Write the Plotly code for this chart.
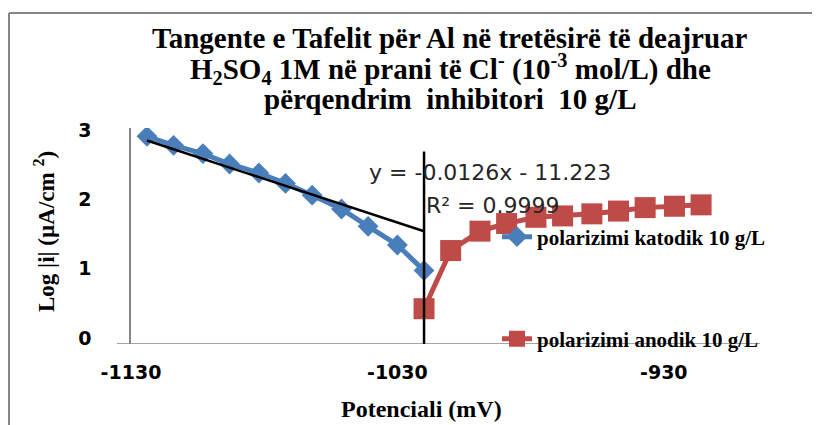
import plotly.graph_objects as go

# ---------------- data ----------------
cat_x = [-1124, -1114, -1103, -1093, -1082, -1072, -1062, -1051, -1041, -1030, -1020]
cat_y = [3.00, 2.87, 2.75, 2.60, 2.47, 2.32, 2.15, 1.95, 1.70, 1.43, 1.06]
an_x = [-1020, -1010, -999, -989, -978, -968, -957, -947, -937, -926, -916]
an_y = [0.51, 1.35, 1.63, 1.74, 1.83, 1.85, 1.88, 1.92, 1.97, 1.99, 2.01]

trend_slope = -0.0126
trend_intercept = -11.223
trend_r2 = 0.9999
E_corr = -1020
vline_top = 2.78

x_ticks = [-1130, -1030, -930]
y_ticks = [0, 1, 2, 3]

cat_name = "polarizimi katodik 10 g/L"
an_name = "polarizimi anodik 10 g/L"

# ---------------- layout helpers ----------------
# The page body has an 8 px margin, so the figure is made 8 px smaller
# and every reference pixel position is shifted by that offset.
OFF = 8
W, H = 820 - OFF, 425 - OFF
L, R, T, B = 131 - OFF, 68 - OFF, 128 - OFF, 89 - OFF
PW, PH = W - L - R, H - T - B


def px(x):
    return (x - OFF - L) / PW


def py(y):
    return (H - B - (y - OFF)) / PH


BLUE = "#4A7EBB"
RED = "#BE4B48"
AXIS = "#868686"
SERIF = "Liberation Serif"
SANS = "DejaVu Sans"

trend_x = [cat_x[0], E_corr]
trend_y = [trend_slope * v + trend_intercept for v in trend_x]

fig = go.Figure()
fig.add_trace(go.Scatter(
    x=cat_x, y=cat_y, name=cat_name, mode="lines+markers",
    line=dict(color=BLUE, width=5),
    marker=dict(symbol="diamond", size=16, color=BLUE),
    legend="legend",
))
fig.add_trace(go.Scatter(
    x=an_x, y=an_y, name=an_name, mode="lines+markers",
    line=dict(color=RED, width=5),
    marker=dict(symbol="square", size=21, color=RED),
    legend="legend2",
))
fig.add_trace(go.Scatter(
    x=trend_x, y=trend_y, mode="lines", showlegend=False,
    line=dict(color="black", width=2.5), hoverinfo="skip",
))

shapes = [
    # vertical Ecorr line
    dict(type="line", xref="x", yref="y", x0=E_corr, x1=E_corr, y0=0, y1=vline_top,
         line=dict(color="black", width=2.5)),
    # x axis line (extends slightly left of the y axis)
    dict(type="line", xref="paper", yref="y", x0=px(117), x1=1, y0=0, y1=0,
         line=dict(color=AXIS, width=1.5), layer="below"),
    # chart outer border (left and top)
    dict(type="line", xref="paper", yref="paper", x0=px(9), x1=px(9), y0=py(13), y1=py(440),
         line=dict(color=AXIS, width=2)),
    dict(type="line", xref="paper", yref="paper", x0=px(9), x1=px(840), y0=py(13), y1=py(13),
         line=dict(color=AXIS, width=2)),
]

title_lines = [
    "Tangente e Tafelit për Al në tretësirë të deajruar",
    "H<sub>2</sub>SO<sub>4</sub> 1M në prani të Cl<sup>-</sup> (10<sup>-3</sup> mol/L) dhe",
    "përqendrim\u00a0 inhibitori\u00a0 10 g/L",
]
title_y = [38, 69, 99]

annotations = []
for txt, yy in zip(title_lines, title_y):
    annotations.append(dict(
        text=txt, xref="paper", yref="paper", x=px(450), y=py(yy),
        xanchor="center", yanchor="middle", showarrow=False,
        font=dict(family=SERIF, size=29, color="black", weight="bold"),
    ))

annotations += [
    dict(text=f"y = {trend_slope}x - {abs(trend_intercept)}", xref="paper", yref="paper",
         x=px(367), y=py(172), xanchor="left", yanchor="middle", showarrow=False,
         font=dict(family=SANS, size=22, color="#262626")),
    dict(text=f"R² = {trend_r2}", xref="paper", yref="paper",
         x=px(424), y=py(205), xanchor="left", yanchor="middle", showarrow=False,
         font=dict(family=SANS, size=22, color="#262626")),
    dict(text="Potenciali (mV)", xref="paper", yref="paper",
         x=px(421), y=py(409), xanchor="center", yanchor="middle", showarrow=False,
         font=dict(family=SERIF, size=24, color="black", weight="bold")),
    dict(text="Log |i| (µA/cm <sup>2</sup>)", xref="paper", yref="paper",
         x=px(44), y=py(232), xanchor="center", yanchor="middle", showarrow=False,
         textangle=-90,
         font=dict(family=SERIF, size=23, color="black", weight="bold")),
]

legend_font = dict(family=SERIF, size=21, color="black", weight="bold")

fig.update_layout(
    width=W, height=H, autosize=False,
    margin=dict(l=L, r=R, t=T, b=B, pad=0),
    paper_bgcolor="white", plot_bgcolor="white",
    showlegend=True,
    legend=dict(x=px(497), y=py(237), xanchor="left", yanchor="middle",
                bgcolor="rgba(0,0,0,0)", font=legend_font, borderwidth=0),
    legend2=dict(x=px(497), y=py(339), xanchor="left", yanchor="middle",
                 bgcolor="rgba(0,0,0,0)", font=legend_font, borderwidth=0),
    xaxis=dict(range=[-1130, -1130 + PW / 2.664], tickvals=x_ticks,
               ticktext=[str(v) for v in x_ticks],
               showgrid=False, zeroline=False, showline=False, ticks="",
               tickfont=dict(family=SANS, size=19, color="black", weight="bold"),
               ticklabelstandoff=15),
    yaxis=dict(range=[0, 3.12], tickvals=y_ticks,
               showgrid=False, zeroline=False, showline=True, linecolor=AXIS,
               linewidth=1.5, ticks="",
               tickfont=dict(family=SANS, size=19, color="black", weight="bold"),
               ticklabelstandoff=34, ticklabelshift=-6),
    shapes=shapes,
    annotations=annotations,
)

fig.write_html("out.html")
